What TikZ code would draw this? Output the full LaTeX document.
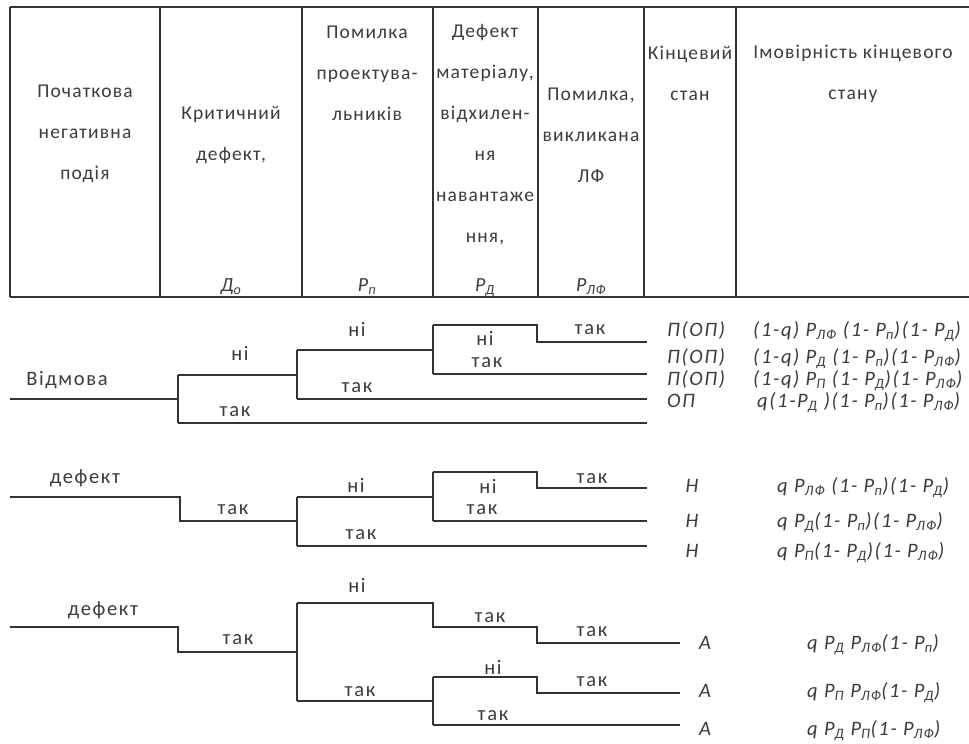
\documentclass[tikz,border=0pt]{standalone}
\usepackage{fontspec}
\setmainfont{Carlito}
\definecolor{ink}{HTML}{3C3C3C}
\definecolor{rulec}{HTML}{333333}
\newcommand{\sbs}[1]{\textsubscript{#1}}
\begin{document}
\begin{tikzpicture}[x=1pt,y=-1pt,
  every node/.style={inner sep=0pt,text=ink},
  hdr/.style={font=\fontsize{19.5}{41}\selectfont\addfontfeature{LetterSpace=6},align=center,anchor=center},
  sym/.style={font=\fontsize{20}{22}\selectfont\itshape\addfontfeature{LetterSpace=6},anchor=base},
  lbl/.style={font=\fontsize{20.5}{22}\selectfont\addfontfeature{LetterSpace=8},anchor=center},
  fml/.style={font=\fontsize{20.5}{22}\selectfont\itshape\addfontfeature{LetterSpace=8},anchor=base west},
  endl/.style={font=\fontsize{20.5}{22}\selectfont\itshape\addfontfeature{LetterSpace=8},anchor=base},
  tbl/.style={draw=rulec,line width=1.3pt},
  ln/.style={draw=rulec,line width=1.1pt}]
\useasboundingbox (0,0) rectangle (969,744);
\clip (0,0) rectangle (969,744);
\fill[white] (0,0) rectangle (969,744);
% ---- table frame ----
\coordinate (tl) at (10,7);
\coordinate (tr) at (969,7);
\coordinate (bl) at (10,297);
\coordinate (br) at (969,297);
\draw[tbl] (tl) -- (tr);
\draw[tbl] (bl) -- (br);
\foreach \xx [count=\i] in {10,160,302,433,538,644,736}{
  \coordinate (vt\i) at (\xx,7);
  \coordinate (vb\i) at (\xx,297);
  \draw[tbl] (vt\i) -- (vb\i);
}
% ---- header texts ----
\node[hdr] (h1) at (85,134) {Початкова\\негативна\\подія};
\node[hdr] (h2) at (231,135) {Критичний\\дефект,};
\node[hdr] (h3) at (367,73) {Помилка\\проектува-\\льників};
\node[hdr] (h4) at (485,135) {Дефект\\матеріалу,\\відхилен-\\ня\\навантаже\\ння,};
\node[hdr] (h5) at (591,135) {Помилка,\\викликана\\ЛФ};
\node[hdr] (h6) at (690,73.5) {Кінцевий\\стан};
\node[hdr] (h7) at (853,73.5) {Імовірність кінцевого\\стану};
\node[sym] (s2) at (231,291) {Д\sbs{о}};
\node[sym] (s3) at (367,291) {P\sbs{п}};
\node[sym] (s4) at (485,291) {P\sbs{Д}};
\node[sym] (s5) at (591,291) {P\sbs{ЛФ}};
% ---- tree 1 ----
\coordinate (a0) at (10,399);
\coordinate (a1) at (178,399);
\coordinate (a1u) at (178,375);
\coordinate (a1d) at (178,423);
\coordinate (b1u) at (297,350);
\coordinate (b1) at (297,375);
\coordinate (b1d) at (297,399);
\coordinate (c1u) at (433,325);
\coordinate (c1) at (433,350);
\coordinate (c1d) at (433,374);
\coordinate (d1) at (537,325);
\coordinate (d1d) at (537,342);
\coordinate (e11) at (647,342);
\coordinate (e12) at (647,374);
\coordinate (e13) at (647,399);
\coordinate (e14) at (647,423);
\draw[ln] (a0) -- (a1);
\draw[ln] (a1u) -- (a1d);
\draw[ln] (a1u) -- (b1);
\draw[ln] (b1u) -- (b1d);
\draw[ln] (b1u) -- (c1);
\draw[ln] (c1u) -- (c1d);
\draw[ln] (c1u) -- (d1) -- (d1d) -- (e11);
\draw[ln] (c1d) -- (e12);
\draw[ln] (b1d) -- (e13);
\draw[ln] (a1d) -- (e14);
\node[lbl] (l101) at (67,380) {Відмова};
\node[lbl] (l102) at (240,353) {ні};
\node[lbl] (l103) at (235,412) {так};
\node[lbl] (l104) at (357,329) {ні};
\node[lbl] (l105) at (357,388) {так};
\node[lbl] (l106) at (485,338) {ні};
\node[lbl] (l107) at (487,363) {так};
\node[lbl] (l108) at (590,330) {так};
\node[fml] (n11) at (667,336) {П(ОП)};
\node[fml] (n12) at (667,363) {П(ОП)};
\node[fml] (n13) at (667,385) {П(ОП)};
\node[fml] (n14) at (667,407) {ОП};
\node[fml] (f11) at (753,336) {(1-q) P\sbs{ЛФ} (1- P\sbs{п})(1- P\sbs{Д})};
\node[fml] (f12) at (753,363) {(1-q) P\sbs{Д} (1- P\sbs{п})(1- P\sbs{ЛФ})};
\node[fml] (f13) at (753,385) {(1-q) P\sbs{П} (1- P\sbs{Д})(1- P\sbs{ЛФ})};
\node[fml] (f14) at (757,407) {q(1-P\sbs{Д} )(1- P\sbs{п})(1- P\sbs{ЛФ})};
% ---- tree 2 ----
\coordinate (a2s) at (10,497);
\coordinate (a2) at (180,497);
\coordinate (a2d) at (180,521);
\coordinate (b2) at (297,521);
\coordinate (b2u) at (297,497);
\coordinate (b2d) at (297,546);
\coordinate (c2) at (433,497);
\coordinate (c2u) at (433,472);
\coordinate (c2d) at (433,521);
\coordinate (d2) at (537,472);
\coordinate (d2d) at (537,488);
\coordinate (e21) at (647,488);
\coordinate (e22) at (647,521);
\coordinate (e23) at (647,546);
\draw[ln] (a2s) -- (a2) -- (a2d) -- (b2);
\draw[ln] (b2u) -- (b2d);
\draw[ln] (b2u) -- (c2);
\draw[ln] (c2u) -- (c2d);
\draw[ln] (c2u) -- (d2) -- (d2d) -- (e21);
\draw[ln] (c2d) -- (e22);
\draw[ln] (b2d) -- (e23);
\node[lbl] (l201) at (85,478) {дефект};
\node[lbl] (l202) at (233,510) {так};
\node[lbl] (l203) at (356,485) {ні};
\node[lbl] (l204) at (361,535) {так};
\node[lbl] (l205) at (488,486) {ні};
\node[lbl] (l206) at (482,510) {так};
\node[lbl] (l207) at (592,479) {так};
\node[endl] (n21) at (692,492) {Н};
\node[endl] (n22) at (692,527) {Н};
\node[endl] (n23) at (692,557) {Н};
\node[fml] (f21) at (777,492) {q P\sbs{ЛФ} (1- P\sbs{п})(1- P\sbs{Д})};
\node[fml] (f22) at (777,527) {q P\sbs{Д}(1- P\sbs{п})(1- P\sbs{ЛФ})};
\node[fml] (f23) at (777,557) {q P\sbs{П}(1- P\sbs{Д})(1- P\sbs{ЛФ})};
% ---- tree 3 ----
\coordinate (a3s) at (10,627);
\coordinate (a3) at (178,627);
\coordinate (a3d) at (178,652);
\coordinate (b3) at (297,652);
\coordinate (b3u) at (297,603);
\coordinate (b3d) at (297,701);
\coordinate (c3) at (433,603);
\coordinate (c3d) at (433,627);
\coordinate (d3) at (537,627);
\coordinate (d3d) at (537,643);
\coordinate (e31) at (680,643);
\coordinate (g3) at (433,701);
\coordinate (g3u) at (433,677);
\coordinate (g3d) at (433,725);
\coordinate (h3a) at (537,677);
\coordinate (h3d) at (537,693);
\coordinate (e32) at (680,693);
\coordinate (e33) at (680,725);
\draw[ln] (a3s) -- (a3) -- (a3d) -- (b3);
\draw[ln] (b3u) -- (b3d);
\draw[ln] (b3u) -- (c3) -- (c3d) -- (d3) -- (d3d) -- (e31);
\draw[ln] (b3d) -- (g3);
\draw[ln] (g3u) -- (g3d);
\draw[ln] (g3u) -- (h3a) -- (h3d) -- (e32);
\draw[ln] (g3d) -- (e33);
\node[lbl] (l301) at (103,610) {дефект};
\node[lbl] (l302) at (238,640) {так};
\node[lbl] (l303) at (357,585) {ні};
\node[lbl] (l304) at (490,618) {так};
\node[lbl] (l305) at (592,632) {так};
\node[lbl] (l306) at (360,692) {так};
\node[lbl] (l307) at (493,667) {ні};
\node[lbl] (l308) at (592,682) {так};
\node[lbl] (l309) at (493,716) {так};
\node[endl] (n31) at (705,649) {А};
\node[endl] (n32) at (705,697) {А};
\node[endl] (n33) at (705,735) {А};
\node[fml] (f31) at (807,649) {q P\sbs{Д} P\sbs{ЛФ}(1- P\sbs{п})};
\node[fml] (f32) at (807,697) {q P\sbs{П} P\sbs{ЛФ}(1- P\sbs{Д})};
\node[fml] (f33) at (807,735) {q P\sbs{Д} P\sbs{П}(1- P\sbs{ЛФ})};
\end{tikzpicture}
\end{document}
